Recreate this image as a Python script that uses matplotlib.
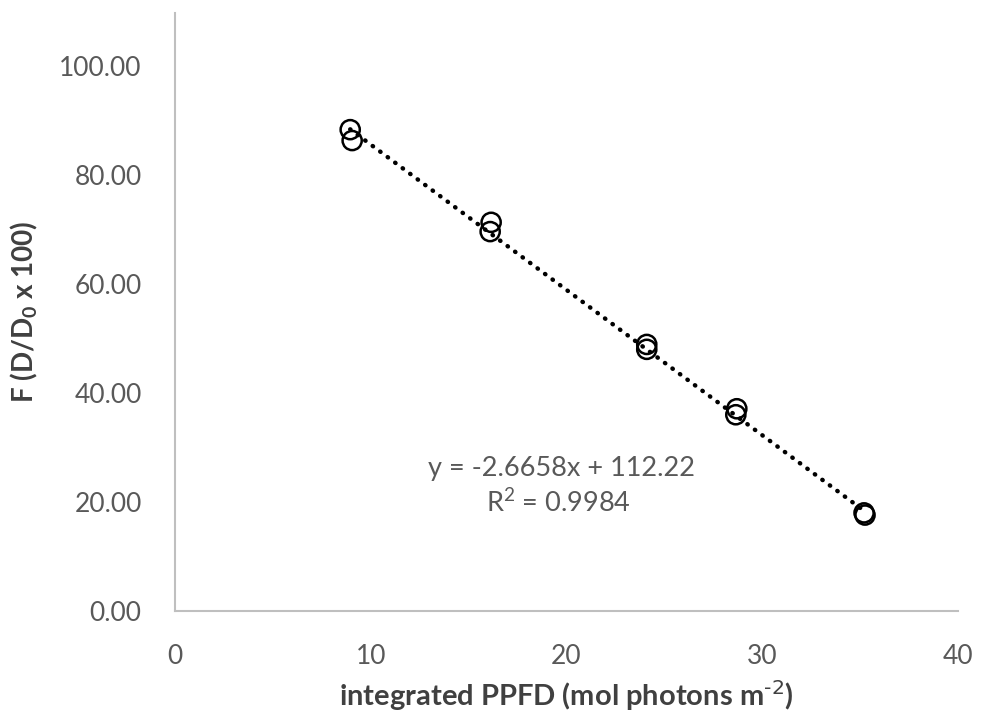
import numpy as np
import matplotlib
matplotlib.use("Agg")
import matplotlib.pyplot as plt

# integrated PPFD (mol photons m-2) and F (D/D0 x 100), two replicates per dose
ppfd = [8.95, 9.05, 16.15, 16.1, 24.1, 24.1, 28.7, 28.65, 35.2, 35.25]
frac = [88.3, 86.3, 71.3, 69.6, 48.9, 48.0, 37.1, 36.0, 18.0, 17.6]

slope = -2.6658
intercept = 112.22
r2 = 0.9984

xticks = [0, 10, 20, 30, 40]
yticks = [0, 20, 40, 60, 80, 100]

plt.rcParams['font.family'] = ['Lato', 'DejaVu Sans']

fig = plt.figure(figsize=(9.85, 7.17), dpi=100)
ax = fig.add_axes([175 / 985, 1 - 611 / 717, (958 - 175) / 985, (611 - 13) / 717])

# trendline over the data range
xl = np.array([min(ppfd), max(ppfd)])
ax.plot(xl, slope * xl + intercept, color='black', linestyle=(0, (0.1, 2.0)),
        linewidth=3.2, dash_capstyle='round', zorder=2)
ax.scatter(ppfd, frac, s=190, facecolors='none', edgecolors='black',
           linewidths=1.8, zorder=3)

ax.set_xlim(0, 40)
ax.set_ylim(0, 109.7)
ax.set_xticks(xticks)
ax.set_yticks(yticks)
ax.set_yticklabels(['%.2f' % v for v in yticks])
ax.tick_params(length=0, labelsize=19, colors='#595959')
ax.tick_params(axis='y', pad=24)
ax.tick_params(axis='x', pad=24)

for s in ['top', 'right']:
    ax.spines[s].set_visible(False)
for s in ['left', 'bottom']:
    ax.spines[s].set_color('#BFBFBF')
    ax.spines[s].set_linewidth(1.5)

ax.set_xlabel('integrated PPFD (mol photons m$^{\\text{-2}}$)',
              fontsize=21, fontweight='bold', color='#404040', labelpad=6)
ax.set_ylabel('F (D/D$_{\\mathregular{0}}$ x 100)', fontsize=20,
              fontweight='bold', color='#404040', labelpad=14)

ax.text(19.72, 26.2, 'y = %.4fx + %.2f' % (slope, intercept), ha='center',
        va='center', fontsize=19.5, color='#595959')
ax.text(19.6, 19.9, 'R$^{\\mathregular{2}}$ = %.4f' % r2, ha='center',
        va='center', fontsize=19.5, color='#595959')

fig.savefig('out.png', dpi=100)
